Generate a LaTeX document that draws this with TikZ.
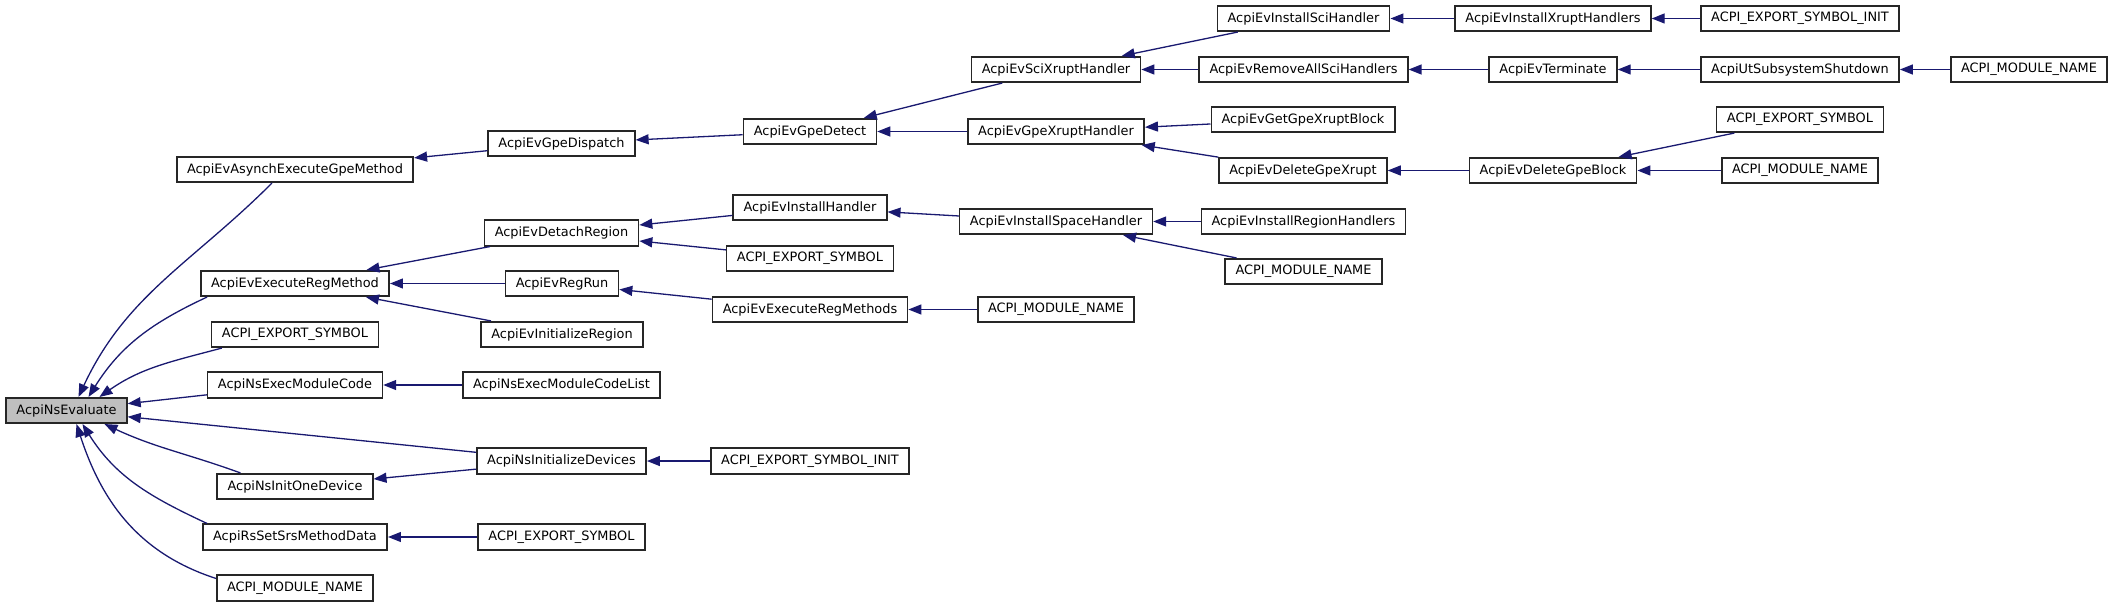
\documentclass[tikz,border=0pt]{standalone}
\usepackage{fontspec}
\setmainfont{DejaVu Sans}
\usepackage{tikz}
\usetikzlibrary{arrows.meta}
\definecolor{callblue}{HTML}{191970}
\definecolor{evalgray}{HTML}{BFBFBF}

\begin{document}
\begin{tikzpicture}[x=1pt, y=1pt,
  fn/.style={draw=black!85, line width=1.6pt, fill=white,
    font=\fontsize{12.9}{15}\selectfont,
    inner xsep=10.3pt, inner ysep=0pt, minimum height=25.5pt},
  call/.style={draw=callblue, line width=1.3pt,
    {Triangle[length=13pt,width=10pt]}-}]

\useasboundingbox (0,0) rectangle (2115,-607);

% the function itself
\node[fn, fill=evalgray] (eval) at (66.5,-410.5) {AcpiNsEvaluate};

% first callers
\node[fn] (asyncgpe) at (295,-169.5) {AcpiEvAsynchExecuteGpeMethod};
\node[fn] (execreg) at (295,-283.5) {AcpiEvExecuteRegMethod};
\node[fn] (exportA) at (295,-334.5) {ACPI\_EXPORT\_SYMBOL};
\node[fn] (execmod) at (295,-385) {AcpiNsExecModuleCode};
\node[fn] (initone) at (295,-486.5) {AcpiNsInitOneDevice};
\node[fn] (rsset) at (295,-537) {AcpiRsSetSrsMethodData};
\node[fn] (modA) at (295,-588) {ACPI\_MODULE\_NAME};

\node[fn] (dispatch) at (561.5,-143.5) {AcpiEvGpeDispatch};
\node[fn] (detach) at (561.5,-233) {AcpiEvDetachRegion};
\node[fn] (regrun) at (562,-283.5) {AcpiEvRegRun};
\node[fn] (initregion) at (562,-334.5) {AcpiEvInitializeRegion};
\node[fn] (execmodlist) at (561.5,-385) {AcpiNsExecModuleCodeList};
\node[fn] (initdev) at (561.5,-461) {AcpiNsInitializeDevices};
\node[fn] (exportB) at (561.5,-537) {ACPI\_EXPORT\_SYMBOL};

\node[fn] (gpedetect) at (810,-131.5) {AcpiEvGpeDetect};
\node[fn] (installhdl) at (810,-207.5) {AcpiEvInstallHandler};
\node[fn] (exportC) at (810,-258.5) {ACPI\_EXPORT\_SYMBOL};
\node[fn] (execregs) at (810,-309.5) {AcpiEvExecuteRegMethods};
\node[fn] (exportinitA) at (810,-461) {ACPI\_EXPORT\_SYMBOL\_INIT};

\node[fn] (scixrupt) at (1056,-69.5) {AcpiEvSciXruptHandler};
\node[fn] (gpexrupt) at (1056,-131.5) {AcpiEvGpeXruptHandler};
\node[fn] (installspace) at (1056,-221.5) {AcpiEvInstallSpaceHandler};
\node[fn] (modB) at (1056,-309.5) {ACPI\_MODULE\_NAME};

\node[fn] (installsci) at (1303.5,-18.5) {AcpiEvInstallSciHandler};
\node[fn] (removesci) at (1303.5,-69.5) {AcpiEvRemoveAllSciHandlers};
\node[fn] (getblock) at (1303,-119.5) {AcpiEvGetGpeXruptBlock};
\node[fn] (delxrupt) at (1303,-170.5) {AcpiEvDeleteGpeXrupt};
\node[fn] (installregion) at (1303.5,-221.5) {AcpiEvInstallRegionHandlers};
\node[fn] (modC) at (1303.5,-271.5) {ACPI\_MODULE\_NAME};

\node[fn] (installxrupt) at (1553,-18.5) {AcpiEvInstallXruptHandlers};
\node[fn] (terminate) at (1553,-69.5) {AcpiEvTerminate};
\node[fn] (delblock) at (1553,-170.5) {AcpiEvDeleteGpeBlock};

\node[fn] (exportinitB) at (1800,-18.5) {ACPI\_EXPORT\_SYMBOL\_INIT};
\node[fn] (utshutdown) at (1800,-69.5) {AcpiUtSubsystemShutdown};
\node[fn] (exportD) at (1800,-119.5) {ACPI\_EXPORT\_SYMBOL};
\node[fn] (modD) at (1800,-170.5) {ACPI\_MODULE\_NAME};

\node[fn] (modE) at (2029,-69.5) {ACPI\_MODULE\_NAME};

% calls into AcpiNsEvaluate
\draw[call] ([xshift=12pt]eval.north) to[out=65,in=225] ([xshift=-23pt]asyncgpe.south);
\draw[call] ([xshift=22pt]eval.north) to[out=58,in=205] ([xshift=7pt]execreg.south west);
\draw[call] ([xshift=33pt]eval.north) to[out=35,in=195] ([xshift=11pt]exportA.south west);
\draw[call] (eval) -- (execmod);
\draw[call] (eval) -- (initdev);
\draw[call] ([xshift=38pt]eval.south) to[out=-25,in=160] ([xshift=24pt]initone.north west);
\draw[call] ([xshift=16pt]eval.south) to[out=-58,in=155] ([xshift=5pt]rsset.north west);
\draw[call] ([xshift=10pt]eval.south) to[out=-72,in=162] ([yshift=-4pt]modA.north west);

% the rest of the callers
\draw[call] (asyncgpe) -- (dispatch);
\draw[call] (dispatch) -- (gpedetect);
\draw[call] (gpedetect) -- (scixrupt);
\draw[call] (gpedetect) -- (gpexrupt);
\draw[call] (scixrupt) -- (installsci);
\draw[call] (scixrupt) -- (removesci);
\draw[call] (installsci) -- (installxrupt);
\draw[call] (installxrupt) -- (exportinitB);
\draw[call] (removesci) -- (terminate);
\draw[call] (terminate) -- (utshutdown);
\draw[call] (utshutdown) -- (modE);
\draw[call] (gpexrupt) -- (getblock);
\draw[call] (gpexrupt) -- (delxrupt);
\draw[call] (delxrupt) -- (delblock);
\draw[call] (delblock) -- (exportD);
\draw[call] (delblock) -- (modD);

\draw[call] (execreg) -- (detach);
\draw[call] (execreg) -- (regrun);
\draw[call] (execreg) -- (initregion);
\draw[call] (detach) -- (installhdl);
\draw[call] (detach) -- (exportC);
\draw[call] (installhdl) -- (installspace);
\draw[call] (installspace) -- (installregion);
\draw[call] (installspace) -- (modC);
\draw[call] (regrun) -- (execregs);
\draw[call] (execregs) -- (modB);

\draw[call] (execmod) -- (execmodlist);
\draw[call] (initdev) -- (exportinitA);
\draw[call] (initone) -- (initdev);
\draw[call] (rsset) -- (exportB);

\end{tikzpicture}
\end{document}
